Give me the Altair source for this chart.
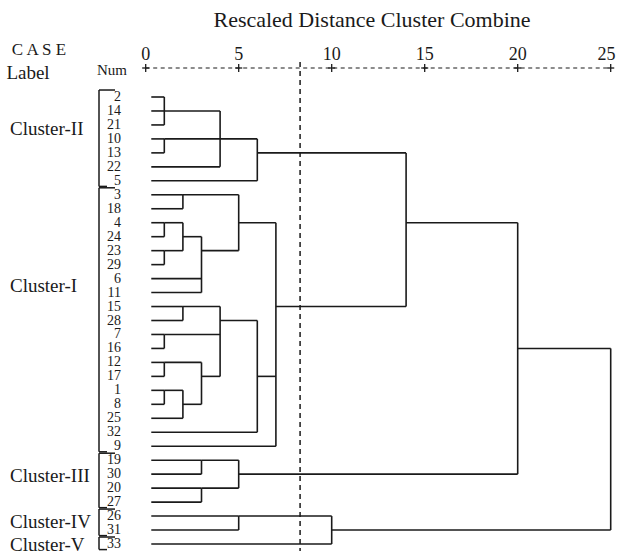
import altair as alt
import pandas as pd

# ---------------- data ----------------
leaves = ["2", "14", "21", "10", "13", "22", "5", "3", "18", "4", "24", "23", "29",
          "6", "11", "15", "28", "7", "16", "12", "17", "1", "8", "25", "32", "9",
          "19", "30", "20", "27", "26", "31", "33"]

# merges: children (leaf labels or "#k" for k-th merge), rescaled distance, row where branch leaves
merge_children = [
    ["2", "14", "21"],      # 0
    ["10", "13"],           # 1
    ["#0", "#1", "22"],     # 2
    ["#2", "5"],            # 3
    ["3", "18"],            # 4
    ["4", "24"],            # 5
    ["23", "29"],           # 6
    ["#5", "#6"],           # 7
    ["#7", "6", "11"],      # 8
    ["#4", "#8"],           # 9
    ["15", "28"],           # 10
    ["7", "16"],            # 11
    ["12", "17"],           # 12
    ["1", "8"],             # 13
    ["#13", "25"],          # 14
    ["#12", "#14"],         # 15
    ["#10", "#11", "#15"],  # 16
    ["#16", "32"],          # 17
    ["#9", "#17", "9"],     # 18
    ["#3", "#18"],          # 19
    ["19", "30"],           # 20
    ["20", "27"],           # 21
    ["#20", "#21"],         # 22
    ["#19", "#22"],         # 23
    ["26", "31"],           # 24
    ["#24", "33"],          # 25
    ["#23", "#25"],         # 26
]
merge_height = [1, 1, 4, 6, 2, 1, 1, 2, 3, 5, 2, 1, 1, 1, 2, 3, 4, 6, 7, 14, 3, 3, 5, 20, 5, 10, 25]
merge_out = ["14", "10", "10", "13", "3", "4", "23", "24", "23", "4", "15", "7", "12", "1",
             "8", "17", "28", "17", "15", "4", "19", "20", "30", "16", "26", "31", None]

cluster_names = ["Cluster-II", "Cluster-I", "Cluster-III", "Cluster-IV", "Cluster-V"]
cluster_first = ["2", "3", "19", "26", "33"]
cluster_last = ["5", "9", "27", "31", "33"]
cluster_label_row = [2.3, 13.5, 27.1, 30.4, 32.1]

tick_values = [0, 5, 10, 15, 20, 25]
cutoff = 8.3
leaf_start = 0.3

# ---------------- tables ----------------
row = {lab: i for i, lab in enumerate(leaves)}


def pos(child):
    if child.startswith("#"):
        k = int(child[1:])
        return merge_height[k], row[merge_out[k]]
    return leaf_start, row[child]


segs = []
for k, ch in enumerate(merge_children):
    h = merge_height[k]
    ys = []
    for c in ch:
        cx, cy = pos(c)
        ys.append(cy)
        segs.append({"x": cx, "x2": h, "y": cy, "y2": cy})
    segs.append({"x": h, "x2": h, "y": min(ys), "y2": max(ys)})
seg_df = pd.DataFrame(segs)

leaf_df = pd.DataFrame({"label": leaves, "idx": list(range(len(leaves)))})

cl_df = pd.DataFrame({
    "name": cluster_names,
    "top": [row[f] - 0.5 for f in cluster_first],
    "bot": [row[l] + 0.4 for l in cluster_last],
    "lab": cluster_label_row,
})

tick_df = pd.DataFrame({"t": tick_values})

# ---------------- scales ----------------
FONT = "Liberation Serif"
INK = "#1a1a1a"
xs = alt.Scale(domain=[0, 25], range=[145.7, 610.7], nice=False, zero=False)
ys = alt.Scale(domain=[0, 32], range=[97, 544], nice=False, zero=False)

X = lambda f: alt.X(f, type="quantitative", scale=xs, axis=None)
Y = lambda f: alt.Y(f, type="quantitative", scale=ys, axis=None)

dendro = alt.Chart(seg_df).mark_rule(color=INK, strokeWidth=1.6).encode(
    x=X("x"), x2="x2", y=Y("y"), y2="y2"
)

leaf_text = alt.Chart(leaf_df).mark_text(
    align="right", baseline="middle", font=FONT, fontSize=14, color=INK
).encode(x=alt.value(121), y=Y("idx"), text="label")

br_v = alt.Chart(cl_df).mark_rule(color=INK, strokeWidth=1.5).encode(
    x=alt.value(99), y=Y("top"), y2="bot"
)
br_t = alt.Chart(cl_df).mark_rule(color=INK, strokeWidth=1.5).encode(
    x=alt.value(99), x2=alt.value(115), y=Y("top")
)
br_b = alt.Chart(cl_df).mark_rule(color=INK, strokeWidth=1.5).encode(
    x=alt.value(99), x2=alt.value(107), y=Y("bot")
)
cl_text = alt.Chart(cl_df).mark_text(
    align="left", baseline="middle", font=FONT, fontSize=19, color=INK
).encode(x=alt.value(10), y=Y("lab"), text="name")

axis_line = alt.Chart(tick_df).mark_rule(color=INK, strokeWidth=1.2, strokeDash=[4, 3.5]).encode(
    x=alt.X("min(t):Q", scale=xs, axis=None), x2="max(t):Q", y=alt.value(68)
)
plus_v = alt.Chart(tick_df).mark_rule(color=INK, strokeWidth=1.3).encode(
    x=X("t"), y=alt.value(64), y2=alt.value(72)
)
plus_h = alt.Chart(tick_df).transform_calculate(
    a="datum.t - 0.19", b="datum.t + 0.19"
).mark_rule(color=INK, strokeWidth=1.3).encode(
    x=X("a"), x2="b", y=alt.value(68)
)
tick_text = alt.Chart(tick_df).transform_calculate(
    tx="min(datum.t, 24.78)"
).mark_text(
    align="center", baseline="alphabetic", font=FONT, fontSize=18, color=INK
).encode(x=X("tx"), y=alt.value(60), text=alt.Text("t:Q"))

cut = alt.Chart(pd.DataFrame({"c": [cutoff]})).mark_rule(
    color=INK, strokeWidth=1.5, strokeDash=[5, 4]
).encode(x=X("c"), y=alt.value(62), y2=alt.value(551))

def label(txt, x, y, size, align="center"):
    return alt.Chart(pd.DataFrame({"s": [txt]})).mark_text(
        align=align, baseline="middle", font=FONT, fontSize=size, color=INK
    ).encode(x=alt.value(x), y=alt.value(y), text="s:N")

title = label("Rescaled Distance Cluster Combine", 372, 20, 22)
case_t = label("C A S E", 39, 50, 17)
label_t = label("Label", 28, 73, 19)
num_t = label("Num", 112, 70, 15)

chart = alt.layer(
    dendro, cut, leaf_text, br_v, br_t, br_b, cl_text,
    axis_line, plus_v, plus_h, tick_text, title, case_t, label_t, num_t
).properties(
    width=617, height=554,
    autosize=alt.AutoSizeParams(type="none"),
    padding=0,
).configure_view(stroke=None)

chart.save("out.html", embed_options={"renderer": "svg", "actions": False})
